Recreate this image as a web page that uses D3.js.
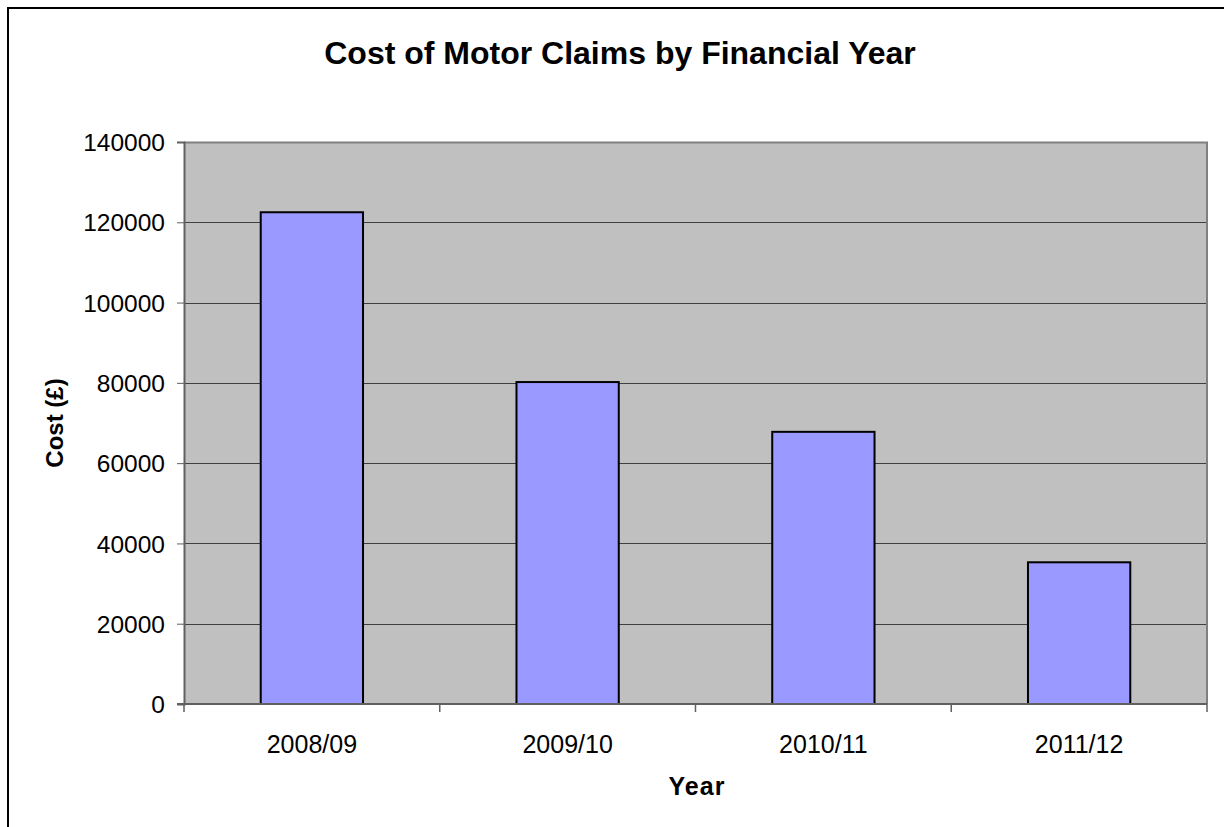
<!DOCTYPE html>
<html>
<head>
<meta charset="utf-8">
<script src="https://cdn.jsdelivr.net/npm/d3@7"></script>
<style>
  html, body { margin: 0; padding: 0; background: #fff; }
  svg { display: block; font-family: "Liberation Sans", Arial, sans-serif; }
</style>
</head>
<body>
<svg id="chart" width="1224" height="827"></svg>
<script>
const categories = ["2008/09", "2009/10", "2010/11", "2011/12"];
const costValues = [122500, 80200, 67800, 35300];
const yTicks = [0, 20000, 40000, 60000, 80000, 100000, 120000, 140000];
const chartTitle = "Cost of Motor Claims by Financial Year";
const xTitle = "Year";
const yTitle = "Cost (£)";

const svg = d3.select("#chart");
const W = 1224, H = 827;
const plot = { left: 184, top: 142, right: 1207, bottom: 704 };

// outer chart border (extends off-canvas at right/bottom)
svg.append("rect").attr("x", 8).attr("y", 8).attr("width", W + 20).attr("height", H + 20)
  .attr("fill", "#fff").attr("stroke", "#000").attr("stroke-width", 2);

const x = d3.scaleBand().domain(categories).range([plot.left, plot.right]).paddingInner(0.6).paddingOuter(0.3);
const xOuter = d3.scaleBand().domain(categories).range([plot.left, plot.right]);
const y = d3.scaleLinear().domain([0, 140000]).range([plot.bottom, plot.top]);

// plot background
svg.append("rect").attr("x", plot.left).attr("y", plot.top)
  .attr("width", plot.right - plot.left).attr("height", plot.bottom - plot.top)
  .attr("fill", "#c0c0c0");

// gridlines
svg.append("g").selectAll("line").data(yTicks.filter(d => d > 0 && d < 140000)).join("line")
  .attr("x1", plot.left).attr("x2", plot.right)
  .attr("y1", d => Math.round(y(d)) + 0.5).attr("y2", d => Math.round(y(d)) + 0.5)
  .attr("stroke", "#404040").attr("stroke-width", 1);

// plot border top/right
svg.append("path")
  .attr("d", `M${plot.left},${plot.top + 0.5}H${plot.right}V${plot.bottom}`)
  .attr("fill", "none").attr("stroke", "#808080").attr("stroke-width", 2);

// bars
svg.append("g").selectAll("rect").data(categories).join("rect")
  .attr("x", d => x(d))
  .attr("y", (d, i) => y(costValues[i]))
  .attr("width", x.bandwidth())
  .attr("height", (d, i) => y(0) - y(costValues[i]))
  .attr("fill", "#9999ff").attr("stroke", "#000").attr("stroke-width", 2);

// y axis
const yAxis = d3.axisLeft(y).tickValues(yTicks).tickSize(7).tickPadding(12).tickFormat(d3.format("d"));
const gy = svg.append("g").attr("transform", `translate(${plot.left},0)`).call(yAxis);
gy.select(".domain").attr("stroke", "#606060").attr("stroke-width", 2);
gy.selectAll(".tick line").attr("stroke", "#606060");
gy.selectAll("text").attr("font-size", 24.5).attr("fill", "#000")
  .attr("font-family", "Liberation Sans, Arial, sans-serif").attr("dy", "0.35em");

// x axis: labels at centers, ticks at category boundaries
const gx = svg.append("g").attr("transform", `translate(0,${plot.bottom})`);
gx.append("line").attr("x1", plot.left - 7).attr("x2", plot.right)
  .attr("y1", 0).attr("y2", 0).attr("stroke", "#606060").attr("stroke-width", 2);
const boundaries = categories.map(c => xOuter(c)).concat([plot.right]);
gx.selectAll("line.tk").data(boundaries).join("line").attr("class", "tk")
  .attr("x1", d => d).attr("x2", d => d).attr("y1", 0).attr("y2", 8)
  .attr("stroke", "#606060").attr("stroke-width", 1.5);
gx.selectAll("text").data(categories).join("text")
  .attr("x", d => xOuter(d) + xOuter.bandwidth() / 2)
  .attr("y", 49)
  .attr("text-anchor", "middle").attr("font-size", 25).attr("fill", "#000")
  .text(d => d);

// titles
svg.append("text").attr("x", 620).attr("y", 64).attr("text-anchor", "middle")
  .attr("font-size", 32).attr("font-weight", "bold").text(chartTitle);
svg.append("text").attr("x", 697).attr("y", 795).attr("text-anchor", "middle")
  .attr("font-size", 25).attr("font-weight", "bold").attr("letter-spacing", 1).text(xTitle);
svg.append("text").attr("transform", `translate(63,423) rotate(-90)`).attr("text-anchor", "middle")
  .attr("font-size", 24).attr("font-weight", "bold").text(yTitle);
</script>
</body>
</html>
